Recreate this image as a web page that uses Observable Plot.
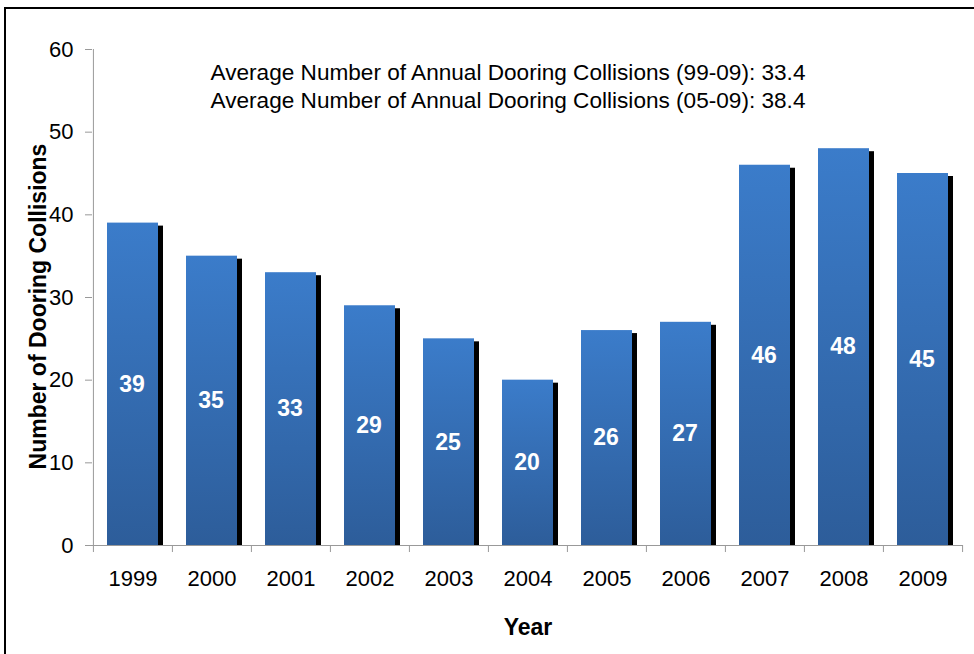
<!DOCTYPE html>
<html>
<head>
<meta charset="utf-8">
<script src="https://cdn.jsdelivr.net/npm/d3@7"></script>
<script src="https://cdn.jsdelivr.net/npm/@observablehq/plot@0.6"></script>
<style>
  html, body { margin: 0; padding: 0; background: #fff; }
  #wrap { position: relative; width: 974px; height: 654px; overflow: hidden; }
  #border { position: absolute; left: 4px; top: 7px; width: 980px; height: 660px;
            border-left: 2px solid #000; border-top: 2px solid #000; box-sizing: border-box; }
  #chart { position: absolute; left: 0; top: 0; }
</style>
</head>
<body>
<div id="wrap">
  <div id="border"></div>
  <div id="chart"></div>
</div>
<script>
const years = ["1999","2000","2001","2002","2003","2004","2005","2006","2007","2008","2009"];
const collisions = [39, 35, 33, 29, 25, 20, 26, 27, 46, 48, 45];
const yTicks = [0, 10, 20, 30, 40, 50, 60];
const noteLine1 = "Average Number of Annual Dooring Collisions (99-09): 33.4";
const noteLine2 = "Average Number of Annual Dooring Collisions (05-09): 38.4";
const xLabel = "Year";
const yLabel = "Number of Dooring Collisions";

const data = years.map((y, i) => ({year: y, value: collisions[i]}));

const W = 974, H = 654;
const mL = 92, mR = 11, mT = 49, mB = 109;
const step = (W - mL - mR) / years.length;
const font = "'Liberation Sans', Arial, sans-serif";

const plot = Plot.plot({
  width: W, height: H,
  marginLeft: mL, marginRight: mR, marginTop: mT, marginBottom: mB,
  style: {fontFamily: font, background: "transparent", overflow: "visible"},
  x: {domain: years, padding: 0, label: null},
  y: {domain: [0, 60], label: null},
  marks: [
    // shadows
    Plot.barY(data, {x: "year", y: "value", fill: "#000", insetLeft: 14, insetRight: 14, insetTop: 3, dx: 5}),
    // bars
    Plot.barY(data, {x: "year", y: "value", fill: "url(#barGrad)", insetLeft: 14, insetRight: 14}),
    // value labels
    Plot.text(data, {x: "year", y: d => d.value / 2, text: d => String(d.value), fill: "#fff",
      fontSize: 23, fontWeight: "bold", dx: -1}),
    // y axis
    Plot.axisY({ticks: yTicks, tickSize: 7, tickPadding: 12, fontSize: 22, stroke: "#999", color: "#000", tickFormat: d => String(d)}),
    Plot.ruleX([0], {x: () => years[0], y1: 0, y2: 60, dx: -step / 2, stroke: "#999"}),
    // x axis
    Plot.ruleY([0], {stroke: "#999"}),
    Plot.axisX({tickSize: 0, tickPadding: 25, fontSize: 22, color: "#000"}),
    Plot.ruleX(years, {x: d => d, y1: 0, y2: -0.85, dx: -step / 2, stroke: "#999"}),
    Plot.ruleX([years[years.length - 1]], {x: d => d, y1: 0, y2: -0.85, dx: step / 2, stroke: "#999"}),
    // annotations
    Plot.text([noteLine1], {frameAnchor: "top", text: d => d, dy: 23, fontSize: 22.6, fill: "#000", dx: -20, lineAnchor: "middle"}),
    Plot.text([noteLine2], {frameAnchor: "top", text: d => d, dy: 51, fontSize: 22.6, fill: "#000", dx: -20, lineAnchor: "middle"}),
    // axis titles
    Plot.text([xLabel], {frameAnchor: "bottom", text: d => d, dy: 82, fontSize: 23, fontWeight: "bold", fill: "#000", lineAnchor: "middle"}),
    Plot.text([yLabel], {frameAnchor: "left", textAnchor: "middle", text: d => d, rotate: -90, dx: -54, dy: 9, fontSize: 23, fontWeight: "bold", fill: "#000", lineAnchor: "middle"})
  ]
});

// gradient definition
const ns = "http://www.w3.org/2000/svg";
const defs = document.createElementNS(ns, "defs");
defs.innerHTML = `<linearGradient id="barGrad" x1="0" y1="0" x2="0" y2="1">
  <stop offset="0" stop-color="#3B7CCA"/>
  <stop offset="1" stop-color="#2D5D9A"/>
</linearGradient>`;
plot.insertBefore(defs, plot.firstChild);

document.getElementById("chart").appendChild(plot);
</script>
</body>
</html>
